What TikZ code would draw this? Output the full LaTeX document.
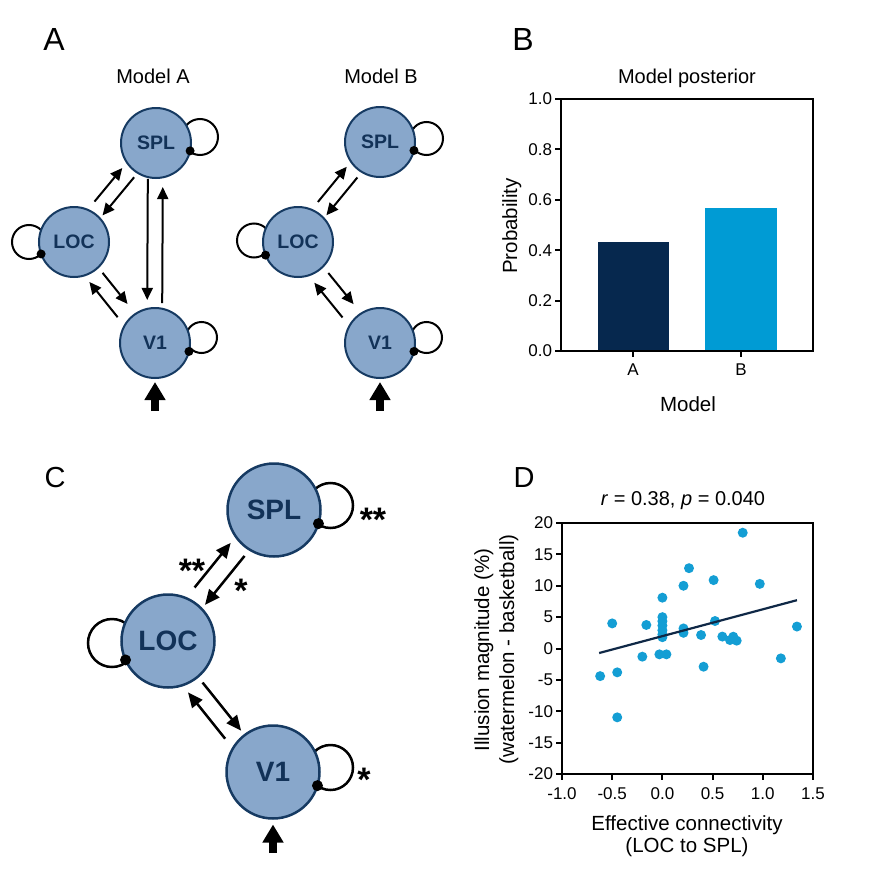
\documentclass[tikz,border=0pt]{standalone}
\usepackage{fontspec}
\setmainfont{Liberation Sans}
\usetikzlibrary{arrows.meta,calc,backgrounds}
\definecolor{nfill}{RGB}{136,167,203}
\definecolor{nborder}{RGB}{22,58,98}
\definecolor{ntext}{RGB}{18,50,88}
\definecolor{darkbar}{RGB}{6,40,78}
\definecolor{lightbar}{RGB}{0,155,212}
\definecolor{dotc}{RGB}{20,158,212}
\definecolor{regc}{RGB}{15,40,70}
\tikzset{
  regA/.style={circle, draw=nborder, fill=nfill, line width=2pt, minimum size=70pt,
    inner sep=0pt, outer sep=0pt, text=ntext, font=\fontsize{19.5}{19.5}\selectfont\bfseries},
  regC/.style={regA, line width=2.5pt, minimum size=93pt, font=\fontsize{28}{28}\selectfont\bfseries},
  arrA/.style={line width=2pt, -{Triangle[length=12pt,width=11pt]}},
  arrC/.style={line width=2.5pt, -{Triangle[length=15pt,width=13pt]}},
  loopA/.style={line width=2pt},
  loopC/.style={line width=2.5pt},
  inarrow/.style={line width=8pt, -{Triangle[length=18pt,width=20pt]}},
  txt/.style={inner sep=0pt, outer sep=0pt},
  panellab/.style={txt, font=\fontsize{32}{32}\selectfont, anchor=base},
  title/.style={txt, font=\fontsize{20}{20}\selectfont, anchor=base},
  tick/.style={txt, font=\fontsize{17}{17}\selectfont},
  axlab/.style={txt, font=\fontsize{20.5}{20.5}\selectfont},
  star/.style={txt, font=\fontsize{34}{34}\selectfont\bfseries, anchor=base},
  frame/.style={line width=2pt},
}
% #1 style, #2 node A, #3 node B, #4 start fraction, #5 end fraction, #6 perpendicular offset
\newcommand\pairconn[6]{\draw[#1] ($(#2)!#4!(#3)!#6!90:(#3)$) -- ($(#2)!#5!(#3)!#6!90:(#3)$);}
% #1 style, #2 node, #3 loop centre offset, #4 radius, #5 dot angle, #6 dot radius
\newcommand\selfloopdraw[6]{%
  \begin{scope}[on background layer]\draw[#1] ($(#2)+(#3)$) circle[radius=#4];\end{scope}
  \fill (#2.#5) circle[radius=#6];}
\begin{document}
\begin{tikzpicture}[x=1pt,y=-1pt]
\useasboundingbox (0,0) rectangle (889,894);

% ---------------- Panel A ----------------
\node[panellab] (labA) at (54,50) {A};
\node[title] (tmA) at (153,83) {Model A};
\node[title] (tmB) at (381,83) {Model B};

\node[regA] (splA) at (156,143) {SPL};
\node[regA] (locA) at (74,242) {LOC};
\node[regA] (v1A) at (155,343) {V1};
\selfloopdraw{loopA}{splA}{44,-6}{18pt}{-13}{4.5pt}
\selfloopdraw{loopA}{locA}{-45,0}{17pt}{200}{4.5pt}
\selfloopdraw{loopA}{v1A}{46.5,-5.5}{15.5pt}{-14}{4.5pt}
\pairconn{arrA}{locA}{splA}{0.344}{0.683}{10pt}
\pairconn{arrA}{locA}{splA}{0.686}{0.301}{-5pt}
\pairconn{arrA}{locA}{v1A}{0.324}{0.632}{3pt}
\pairconn{arrA}{locA}{v1A}{0.664}{0.315}{-13pt}
\pairconn{arrA}{splA}{v1A}{0.18}{0.785}{-8pt}
\pairconn{arrA}{splA}{v1A}{0.80}{0.22}{7pt}
\coordinate (inA) at (155,411);
\draw[inarrow, shorten >=4pt] (inA) -- (v1A);

\node[regA] (splB) at (380,142) {SPL};
\node[regA] (locB) at (298,242) {LOC};
\node[regA] (v1B) at (380,343) {V1};
\selfloopdraw{loopA}{splB}{46.5,-3.5}{16.5pt}{-14}{4.5pt}
\selfloopdraw{loopA}{locB}{-44,-1.5}{17pt}{202}{4.5pt}
\selfloopdraw{loopA}{v1B}{46.5,-5.5}{15.5pt}{-14}{4.5pt}
\pairconn{arrA}{locB}{splB}{0.337}{0.689}{10pt}
\pairconn{arrA}{locB}{splB}{0.677}{0.299}{-5pt}
\pairconn{arrA}{locB}{v1B}{0.332}{0.64}{4pt}
\pairconn{arrA}{locB}{v1B}{0.666}{0.322}{-13pt}
\coordinate (inB) at (380,411);
\draw[inarrow, shorten >=4pt] (inB) -- (v1B);

% ---------------- Panel B ----------------
\node[panellab] (labB) at (523,50) {B};
\node[title] (tpost) at (687,83) {Model posterior};
\node[axlab, rotate=90, anchor=base] (tprob) at (517,226) {Probability};
\node[axlab] (tmodel) at (688,404) {Model};
\begin{scope}[shift={(561,351)}, x=1pt, y=252pt]
  \fill[darkbar] (37,0) rectangle (108,0.432);
  \fill[lightbar] (144,0) rectangle (216,0.567);
  \draw[frame] (0,0) rectangle (252,1);
  \foreach \v [count=\i] in {0.0,0.2,0.4,0.6,0.8,1.0} {
    \draw[frame] (0,\v) -- ++(-6pt,0pt);
    \node[tick, anchor=east] (byt\i) at ($(0,\v)+(-9pt,0pt)$) {\v};
  }
  \draw[frame] (72,0) -- ++(0pt,-6pt);
  \draw[frame] (180,0) -- ++(0pt,-6pt);
  \node[tick] (bxA) at ($(72,0)+(0pt,-19pt)$) {A};
  \node[tick] (bxB) at ($(180,0)+(0pt,-19pt)$) {B};
\end{scope}

% ---------------- Panel C ----------------
\node[panellab, font=\fontsize{29}{29}\selectfont] (labC) at (55,487) {C};
\node[regC] (splC) at (274,510) {SPL};
\node[regC] (locC) at (168,641) {LOC};
\node[regC] (v1C) at (273,772) {V1};
\selfloopdraw{loopC}{splC}{56.5,-4.5}{22.5pt}{-17}{5.5pt}
\selfloopdraw{loopC}{locC}{-56,2}{24pt}{204}{5.5pt}
\selfloopdraw{loopC}{v1C}{57.5,-4.5}{22.5pt}{-17}{5.5pt}
\pairconn{arrC}{locC}{splC}{0.346}{0.687}{13pt}
\pairconn{arrC}{locC}{splC}{0.678}{0.305}{-6pt}
\pairconn{arrC}{locC}{v1C}{0.322}{0.689}{1pt}
\pairconn{arrC}{locC}{v1C}{0.667}{0.313}{-16.5pt}
\coordinate (inC) at (273,853);
\draw[inarrow, shorten >=6pt] (inC) -- (v1C);
\node[star] (s1) at (192,582) {**};
\node[star] (s2) at (241,602) {*};
\node[star] (s3) at (373,531) {**};
\node[star] (s4) at (364,791) {*};

% ---------------- Panel D ----------------
\node[panellab, font=\fontsize{29}{29}\selectfont] (labD) at (524,487) {D};
\node[title] (tcorr) at (683,505) {\textit{r} = 0.38, \textit{p} = 0.040};
\node[axlab, anchor=base] (tec1) at (687,830) {Effective connectivity};
\node[axlab, anchor=base] (tec2) at (687,852) {(LOC to SPL)};
\node[axlab, rotate=90, anchor=base] (til1) at (489,650) {Illusion magnitude (\%)};
\node[axlab, rotate=90, anchor=base] (til2) at (514,649.5) {(watermelon - basketball)};
\begin{scope}[shift={(662.4,648.5)}, x=100.4pt, y=6.275pt]
  \draw[frame] (-1,-20) rectangle (1.5,20);
  \foreach \v [count=\i] in {-20,-15,...,20} {
    \draw[frame] (-1,\v) -- ++(-6pt,0pt);
    \node[tick, anchor=east] (dyt\i) at ($(-1,\v)+(-9pt,0pt)$) {\v};
  }
  \foreach \x/\t [count=\i] in {-1/-1.0,-0.5/-0.5,0/0.0,0.5/0.5,1/1.0,1.5/1.5} {
    \draw[frame] (\x,-20) -- ++(0pt,-6pt);
    \node[tick] (dxt\i) at ($(\x,-20)+(0pt,-20pt)$) {\t};
  }
  \foreach \a/\b in {0.80/18.45,0.265/12.8,0.51/10.9,0.21/10.0,0.97/10.3,0.0/8.1,
     -0.5/4.0,-0.16/3.75,0/5.0,0/4.35,0/3.65,0/2.9,0/2.25,0/1.8,0.21/3.2,0.21/2.5,
     0.385/2.15,0.524/4.38,0.597/1.9,0.673/1.35,0.706/1.88,0.74/1.25,1.34/3.5,
     -0.2/-1.3,-0.03/-0.93,0.04/-0.93,1.18/-1.57,0.41/-2.9,-0.62/-4.4,-0.45/-3.8,
     -0.45/-10.97} {
    \fill[dotc] (\a,\b) circle[radius=5pt];
  }
  \draw[regc, line width=2.2pt] (-0.63,-0.72) -- (1.34,7.7);
\end{scope}
\end{tikzpicture}
\end{document}
